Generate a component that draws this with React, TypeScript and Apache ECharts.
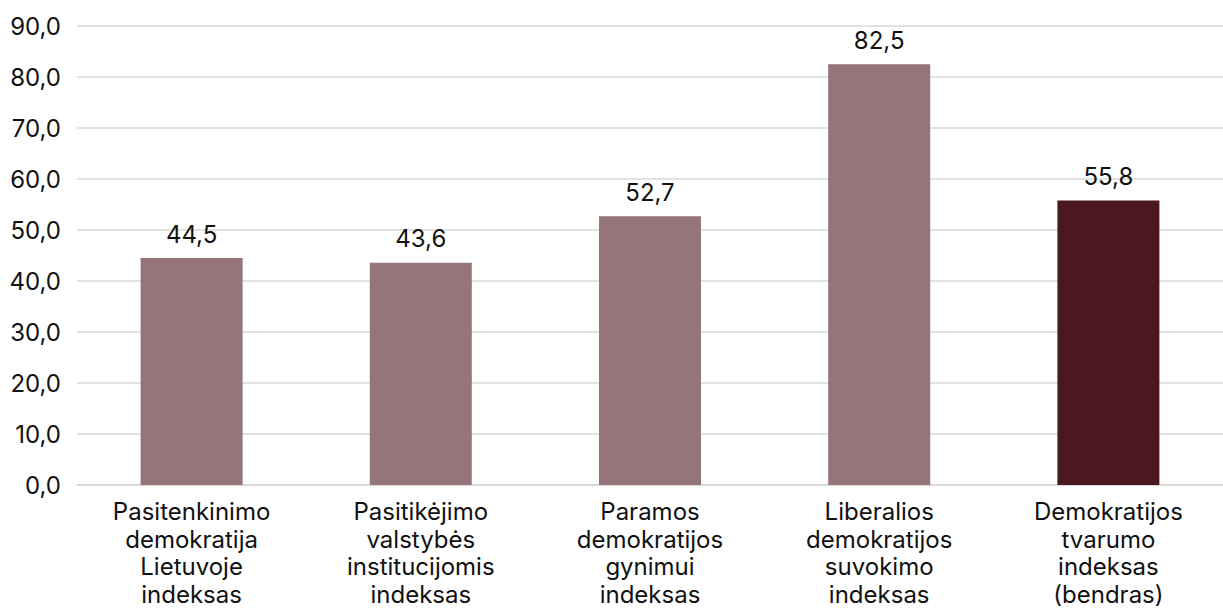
import React, { useEffect, useRef } from "react";
import * as echarts from "echarts";

const categories = [
  "Pasitenkinimo\ndemokratija\nLietuvoje\nindeksas",
  "Pasitikėjimo\nvalstybės\ninstitucijomis\nindeksas",
  "Paramos\ndemokratijos\ngynimui\nindeksas",
  "Liberalios\ndemokratijos\nsuvokimo\nindeksas",
  "Demokratijos\ntvarumo\nindeksas\n(bendras)",
];
const values = [44.5, 43.6, 52.7, 82.5, 55.8];
const barColors = ["#957579", "#957579", "#957579", "#957579", "#4C1820"];

const fmt = (v: number) => v.toFixed(1).replace(".", ",");

export default function App() {
  const ref = useRef<HTMLDivElement>(null);
  useEffect(() => {
    const chart = echarts.init(ref.current!, undefined, { renderer: "svg" });
    chart.setOption({
      animation: false,
      textStyle: { fontFamily: "Inter" },
      grid: {
        left: 77,
        right: 0,
        top: 26,
        bottom: 129,
        containLabel: false,
        outerBoundsMode: "none",
      },
      xAxis: {
        type: "category",
        data: categories,
        axisLine: { show: true, lineStyle: { color: "#d9d9d9", width: 1.5 } },
        axisTick: { show: false },
        axisLabel: {
          color: "#111",
          fontSize: 24,
          lineHeight: 27.5,
          margin: 13,
          interval: 0,
          fontFamily: "Inter",
        },
      },
      yAxis: {
        type: "value",
        min: 0,
        max: 90,
        interval: 10,
        axisLine: { show: false },
        axisTick: { show: false },
        splitLine: { lineStyle: { color: "#d9d9d9", width: 1.5 } },
        axisLabel: {
          color: "#111",
          fontSize: 24,
          margin: 16,
          fontFamily: "Inter",
          formatter: (v: number) => fmt(v),
        },
      },
      series: [
        {
          type: "bar",
          barWidth: 102,
          data: values.map((v, i) => ({ value: v, itemStyle: { color: barColors[i] } })),
          label: {
            show: true,
            position: "top",
            distance: 12,
            color: "#111",
            fontSize: 24,
            fontFamily: "Inter",
            formatter: (p: any) => fmt(p.value),
          },
        },
      ],
    });
    return () => chart.dispose();
  }, []);
  return (
    <div
      ref={ref}
      style={{ position: "fixed", left: 0, top: 0, width: 1223, height: 614, background: "#fff", overflow: "hidden" }}
    />
  );
}
